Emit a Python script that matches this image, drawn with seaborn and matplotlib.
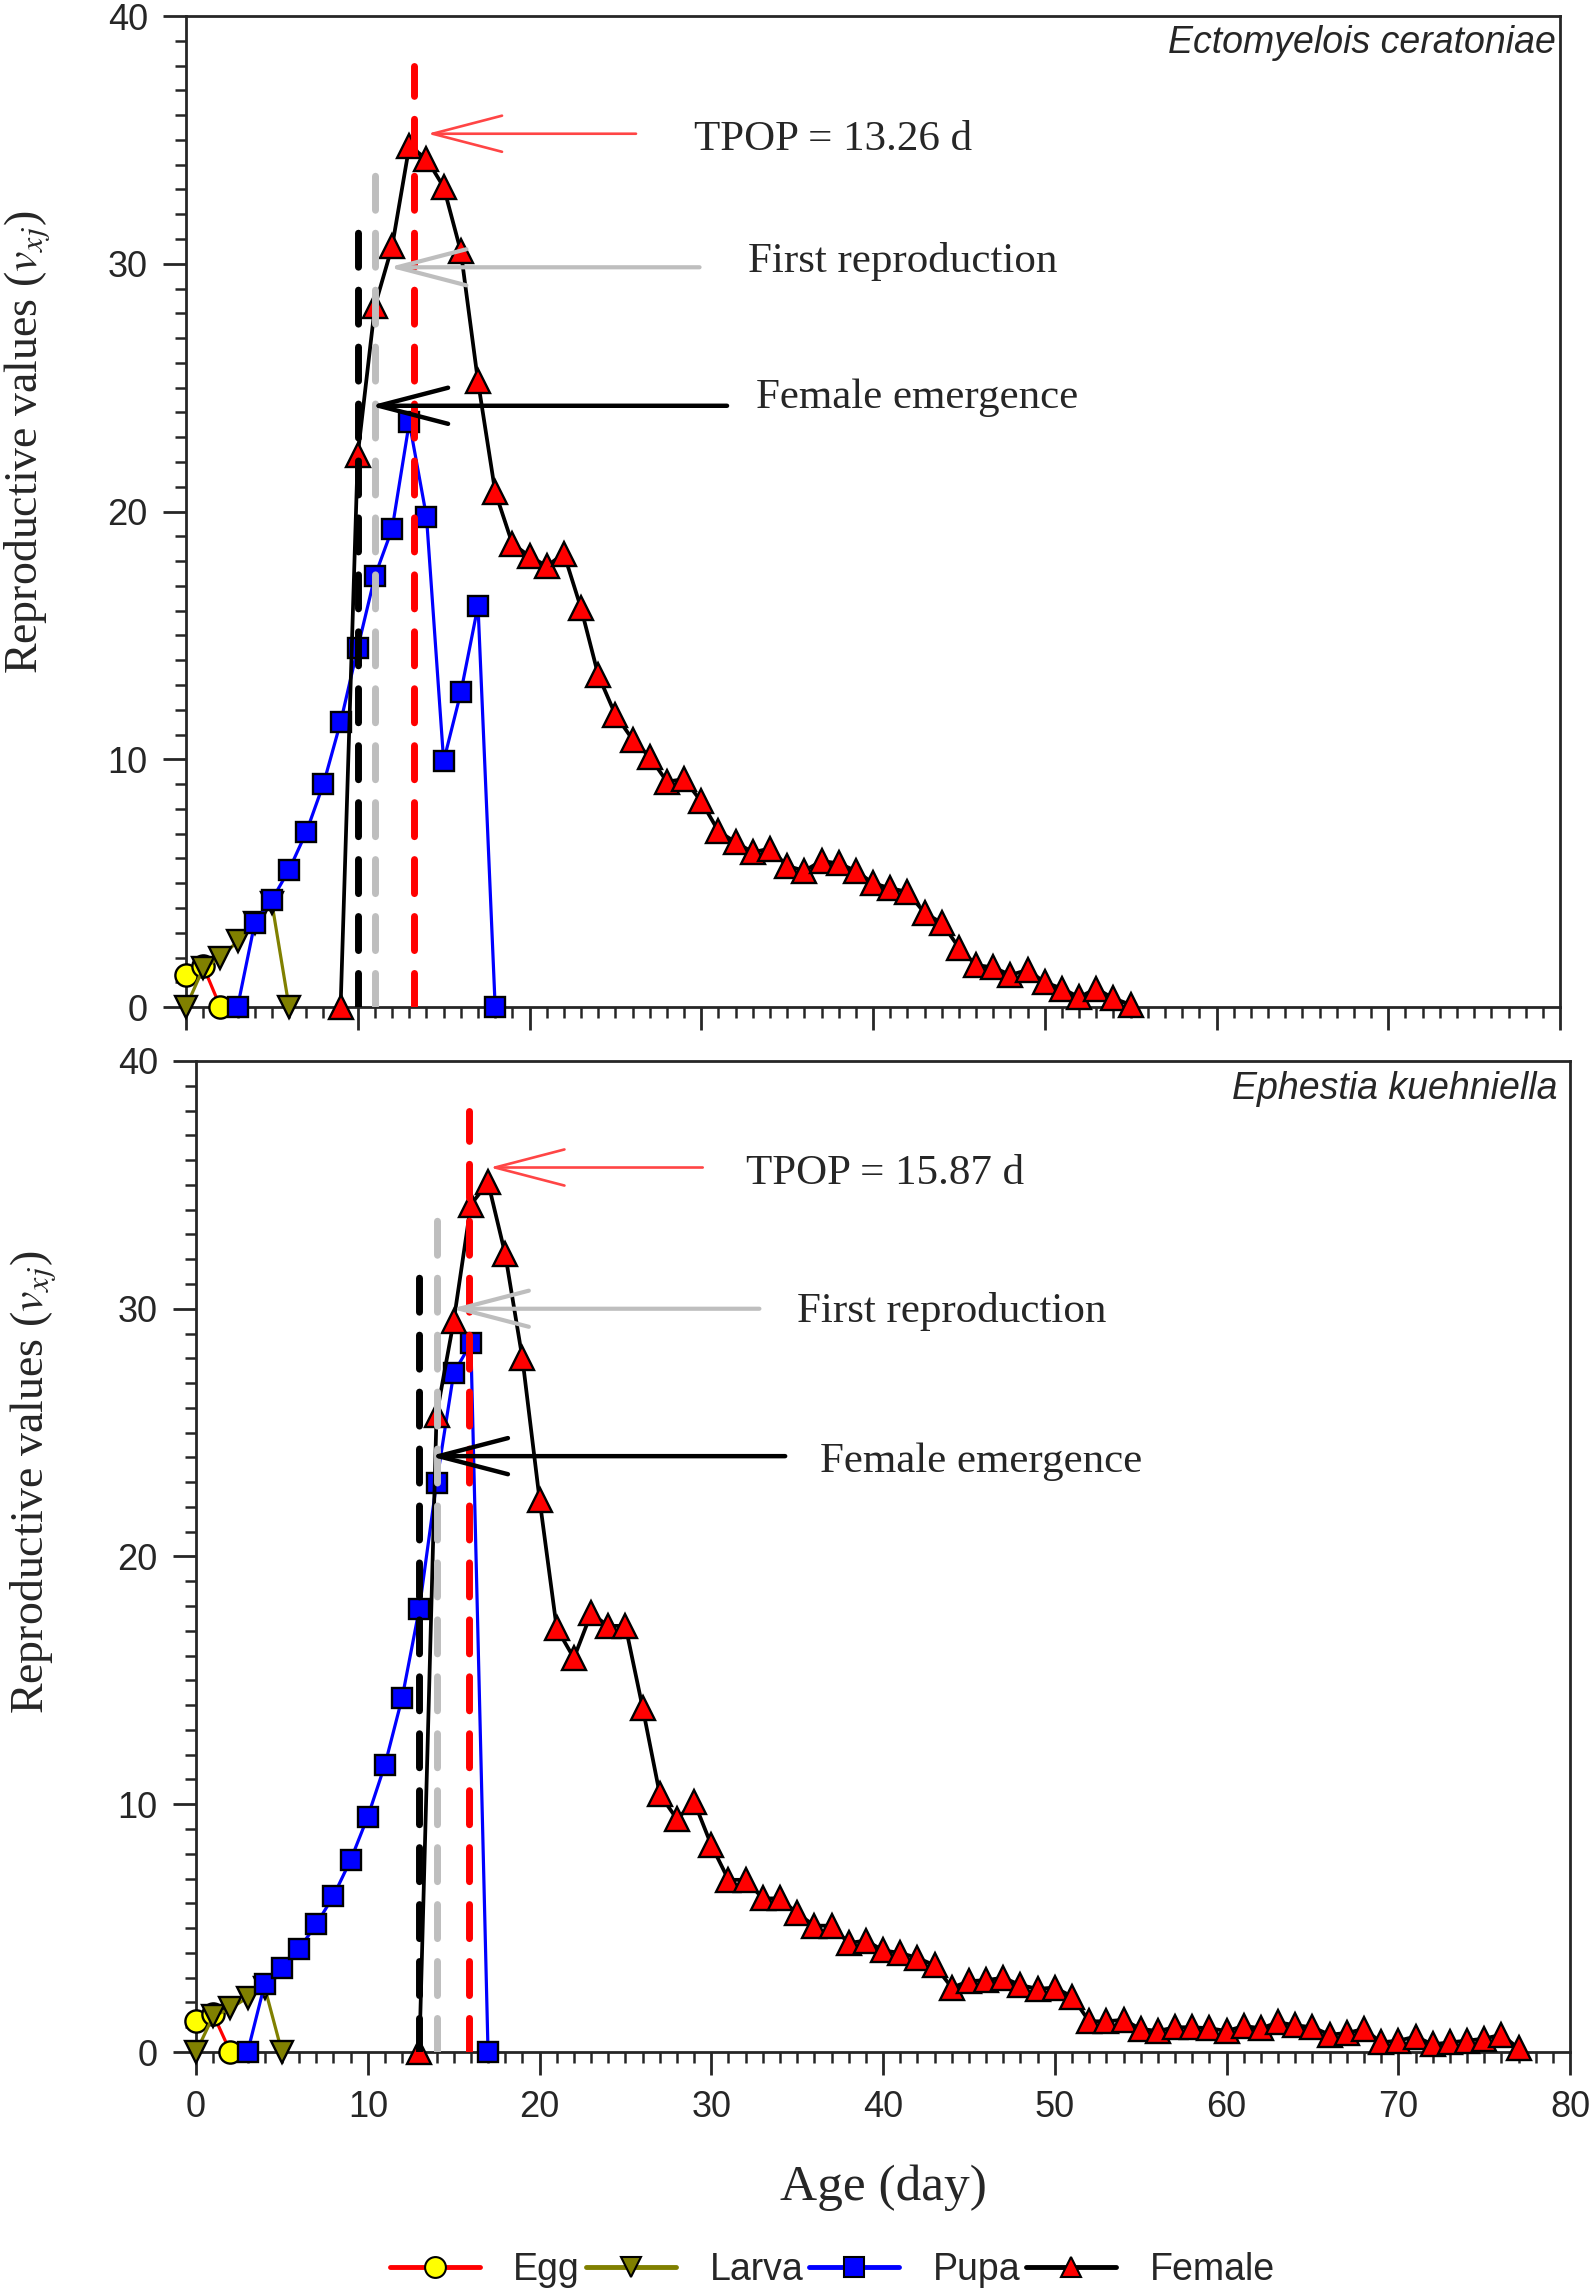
import matplotlib
matplotlib.use('Agg')
import matplotlib.pyplot as plt
from matplotlib.lines import Line2D
from matplotlib.ticker import MultipleLocator
import pandas as pd
import seaborn as sns

# ---------------- data: Ectomyelois ceratoniae (top panel) ----------------
ec_egg_age = [0, 1, 2]
ec_egg = [1.3, 1.65, 0.0]
ec_larva_age = [0, 1, 2, 3, 4, 5, 6]
ec_larva = [0.0, 1.57, 2.0, 2.65, 3.4, 4.2, 0.0]
ec_pupa_age = list(range(3, 19))
ec_pupa = [0.0, 3.39, 4.33, 5.54, 7.06, 9.0, 11.5, 14.5, 17.4, 19.3, 23.6,
           19.8, 9.93, 12.7, 16.2, 0.0]
ec_female_age = list(range(9, 56))
ec_female = [0.0, 22.3, 28.3, 30.7, 34.75, 34.24, 33.1, 30.5, 25.25, 20.8,
             18.7, 18.2, 17.8, 18.3, 16.1, 13.4, 11.8, 10.8, 10.1, 9.1,
             9.2, 8.3, 7.1, 6.65, 6.25, 6.4, 5.7, 5.5, 5.9, 5.8,
             5.5, 5.0, 4.8, 4.65, 3.8, 3.4, 2.4, 1.7, 1.6, 1.3,
             1.5, 1.0, 0.75, 0.4, 0.75, 0.35, 0.1]
ec_emergence = 10.0
ec_first_repro = 11.0
ec_tpop = 13.26

# ---------------- data: Ephestia kuehniella (bottom panel) ----------------
ek_egg_age = [0, 1, 2]
ek_egg = [1.25, 1.52, 0.0]
ek_larva_age = [0, 1, 2, 3, 4, 5]
ek_larva = [0.0, 1.45, 1.76, 2.2, 2.6, 0.0]
ek_pupa_age = list(range(3, 18))
ek_pupa = [0.0, 2.76, 3.4, 4.17, 5.15, 6.3, 7.75, 9.5, 11.6, 14.3, 17.9,
           22.97, 27.4, 28.6, 0.0]
ek_female_age = list(range(13, 78))
ek_female = [0.0, 25.7, 29.5, 34.2, 35.1, 32.2, 28.0, 22.3, 17.1, 15.9,
             17.7, 17.2, 17.2, 13.9, 10.4, 9.4, 10.1, 8.35, 6.95, 6.95,
             6.2, 6.2, 5.6, 5.1, 5.1, 4.4, 4.5, 4.1, 4.0, 3.8,
             3.5, 2.6, 2.86, 2.9, 3.0, 2.7, 2.55, 2.6, 2.24, 1.24,
             1.24, 1.3, 0.93, 0.85, 1.0, 1.0, 0.96, 0.85, 1.05, 0.96,
             1.2, 1.08, 1.0, 0.7, 0.77, 0.93, 0.39, 0.46, 0.62, 0.31,
             0.39, 0.46, 0.54, 0.7, 0.15]
ek_emergence = 13.0
ek_first_repro = 14.0
ek_tpop = 15.87

stages = ['Egg', 'Larva', 'Pupa', 'Female']

# ---------------- style ----------------
sns.set_style('ticks')
plt.rcParams['font.family'] = ['Liberation Sans', 'DejaVu Sans']
plt.rcParams['mathtext.fontset'] = 'stix'
SERIF = 'Liberation Serif'

stage_style = {
    'Egg':    dict(color='#FF0000', marker='o', face='#FFFF00', ms=16),
    'Larva':  dict(color='#808000', marker='v', face='#808000', ms=16),
    'Pupa':   dict(color='#0000FF', marker='s', face='#0000FF', ms=15),
    'Female': dict(color='#000000', marker='^', face='#FF0000', ms=17.5),
}


def make_df(age, vals, stage):
    return pd.DataFrame({'age': age, 'value': vals, 'stage': stage})


def draw_panel(ax, frames, vlines, arrows, texts, species, spx):
    for stage, df in zip(stages, frames):
        st = stage_style[stage]
        lw = 2.7 if stage == 'Female' else 2.3
        sns.lineplot(data=df, x='age', y='value', ax=ax, sort=False,
                     estimator=None, color=st['color'], linewidth=lw,
                     marker=st['marker'], markersize=st['ms'],
                     markerfacecolor=st['face'], markeredgecolor='black',
                     markeredgewidth=1.7, clip_on=False, zorder=3)

    # vertical dashed lines: (x, top, colour)
    for x, top, col in vlines:
        ln, = ax.plot([x, x], [0, top], color=col, lw=5, zorder=5,
                      solid_capstyle='round', dash_capstyle='round')
        ln.set_dashes((4.9, 3.3))

    # arrows: (tip x, tip y, tail x, colour, lw)
    for tx, ty, tail, col, lw in arrows:
        ax.annotate('', xy=(tx, ty), xytext=(tail, ty), zorder=6,
                    arrowprops=dict(arrowstyle='->,head_length=2.5,head_width=0.65',
                                    mutation_scale=20, color=col, lw=lw,
                                    shrinkA=0, shrinkB=0, capstyle='round'))

    for x, y, s in texts:
        ax.text(x, y, s, family=SERIF, fontsize=31, va='baseline', ha='left')

    ax.text(spx[0], spx[1], species, transform=ax.transAxes, ha='right',
            va='center', style='italic', fontsize=27, family='Liberation Sans')

    ax.set_xlim(0, 80)
    ax.set_ylim(0, 40)
    ax.xaxis.set_major_locator(MultipleLocator(10))
    ax.xaxis.set_minor_locator(MultipleLocator(1))
    ax.yaxis.set_major_locator(MultipleLocator(10))
    ax.yaxis.set_minor_locator(MultipleLocator(1))
    ax.tick_params(which='major', direction='out', length=16.5, width=2,
                   labelsize=26, pad=11, top=False, right=False)
    ax.tick_params(which='minor', direction='out', length=8, width=1.8,
                   top=False, right=False)
    for sp in ax.spines.values():
        sp.set_linewidth(2)
        sp.set_visible(True)
    ax.set_ylabel(r'Reproductive values ($v_{xj}$)', family=SERIF, fontsize=33)
    ax.set_xlabel('')


fig = plt.figure(figsize=(15.94, 22.92), dpi=100)
ax1 = fig.add_axes([0.1167, 0.5606, 0.8620, 0.4324])
ax2 = fig.add_axes([0.1230, 0.1047, 0.8620, 0.4324])

# ---- top panel ----
top_frames = [make_df(ec_egg_age, ec_egg, 'Egg'),
              make_df(ec_larva_age, ec_larva, 'Larva'),
              make_df(ec_pupa_age, ec_pupa, 'Pupa'),
              make_df(ec_female_age, ec_female, 'Female')]
draw_panel(ax1, top_frames,
           vlines=[(ec_emergence, 31.5, 'black'),
                   (ec_first_repro, 34.4, '#BEBEBE'),
                   (ec_tpop, 38.0, '#FF0000')],
           arrows=[(14.05, 35.25, 26.2, '#FF4545', 1.9),
                   (11.8, 29.86, 29.9, '#BEBEBE', 3.0),
                   (10.7, 24.27, 31.5, 'black', 3.2)],
           texts=[(29.6, 34.6, 'TPOP = %.2f d' % ec_tpop),
                  (32.7, 29.65, 'First reproduction'),
                  (33.2, 24.2, 'Female emergence')],
           species='Ectomyelois ceratoniae', spx=(0.997, 0.973))
ax1.tick_params(labelbottom=False)
ax1.yaxis.set_label_coords(-0.097, 0.570)

# ---- bottom panel ----
bot_frames = [make_df(ek_egg_age, ek_egg, 'Egg'),
              make_df(ek_larva_age, ek_larva, 'Larva'),
              make_df(ek_pupa_age, ek_pupa, 'Pupa'),
              make_df(ek_female_age, ek_female, 'Female')]
draw_panel(ax2, bot_frames,
           vlines=[(ek_emergence, 31.5, 'black'),
                   (ek_first_repro, 34.4, '#BEBEBE'),
                   (ek_tpop, 38.0, '#FF0000')],
           arrows=[(17.1, 35.7, 29.5, '#FF4545', 1.9),
                   (14.85, 30.0, 32.8, '#BEBEBE', 3.0),
                   (13.6, 24.05, 34.3, 'black', 3.2)],
           texts=[(32.0, 35.05, 'TPOP = %.2f d' % ek_tpop),
                  (35.0, 29.45, 'First reproduction'),
                  (36.3, 23.4, 'Female emergence')],
           species='Ephestia kuehniella', spx=(0.9906, 0.972))
ax2.yaxis.set_label_coords(-0.1, 0.575)
ax2.set_xlabel('Age (day)', family=SERIF, fontsize=37)
ax2.xaxis.set_label_coords(0.5, -0.113)

# ---- legend ----
handles = [Line2D([], [], color=stage_style[s]['color'], lw=3.5,
                  marker=stage_style[s]['marker'], markersize=15,
                  markerfacecolor=stage_style[s]['face'],
                  markeredgecolor='black', markeredgewidth=1.5)
           for s in stages]
fig.legend(handles, stages, loc='center', bbox_to_anchor=(0.522, 0.0096),
           ncol=4, frameon=False, handlelength=2.4,
           handletextpad=0.9, columnspacing=0.15, numpoints=1,
           prop={'family': 'Liberation Sans', 'size': 27})

fig.savefig('out.png', dpi=100)
